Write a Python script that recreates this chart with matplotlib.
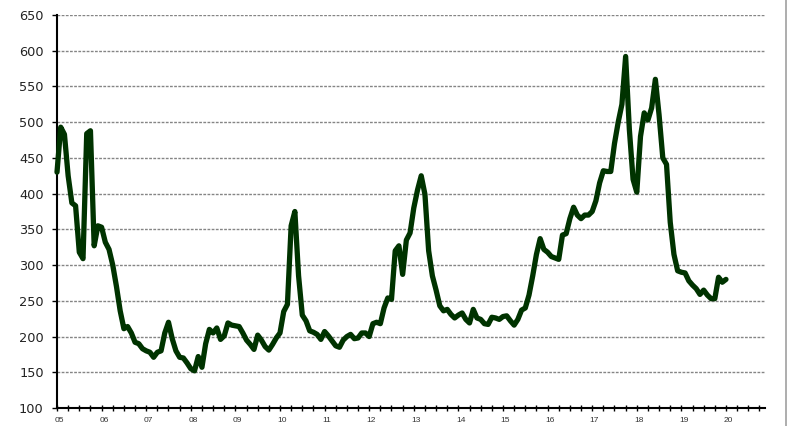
import matplotlib
matplotlib.use("Agg")
import matplotlib.pyplot as plt
from matplotlib.lines import Line2D
import matplotlib.transforms as mtransforms
import numpy as np

# Monthly values, Jan 2005 .. Jan 2020
values = [
    430, 493, 483, 425, 387, 383, 318, 309, 484, 488, 327, 355,   # 2005
    353, 332, 322, 300, 270, 236, 211, 214, 205, 192, 190, 183,   # 2006
    180, 178, 171, 178, 180, 205, 220, 197, 180, 171, 170, 163,   # 2007
    155, 152, 172, 157, 190, 210, 205, 212, 196, 201, 219, 216,   # 2008
    215, 214, 205, 195, 189, 182, 202, 195, 186, 181, 189, 198,   # 2009
    205, 235, 245, 355, 375, 285, 230, 222, 208, 206, 203, 196,   # 2010
    207, 201, 194, 187, 185, 195, 200, 203, 197, 198, 205, 205,   # 2011
    200, 218, 220, 218, 240, 254, 252, 320, 327, 287, 335, 345,   # 2012
    380, 405, 425, 399, 320, 285, 265, 243, 236, 238, 231, 226,   # 2013
    230, 233, 224, 219, 238, 226, 224, 218, 217, 227, 226, 224,   # 2014
    228, 229, 222, 216, 224, 237, 240, 258, 285, 315, 337, 322,   # 2015
    318, 312, 310, 308, 342, 344, 365, 381, 370, 365, 370, 370,   # 2016
    375, 390, 415, 432, 431, 431, 470, 500, 525, 592, 490, 420,   # 2017
    402, 480, 513, 503, 520, 560, 510, 450, 441, 360, 315, 292,   # 2018
    290, 289, 278, 272, 267, 259, 265, 258, 253, 253, 283, 276,   # 2019
    280,                                                          # 2020
]
year_labels = ["05", "06", "07", "08", "09", "10", "11", "12",
               "13", "14", "15", "16", "17", "18", "19", "20"]
y_ticks = [100, 150, 200, 250, 300, 350, 400, 450, 500, 550, 600, 650]

W, H = 787, 426
fig = plt.figure(figsize=(W / 100, H / 100), dpi=100)
fig.patch.set_facecolor("white")
ax = fig.add_axes([57 / W, (H - 408) / H, (765 - 57) / W, (408 - 15) / H])

months = np.arange(len(values))
ax.plot(months, values, color="#003300", lw=3.8, solid_joinstyle="round",
        solid_capstyle="round", zorder=3, clip_on=False)

ax.set_xlim(0, 190.5)
ax.set_ylim(100, 650)

# grid
for v in y_ticks[1:]:
    ax.axhline(v, color="#858585", lw=1.0, ls=(0, (2.0, 1.0)), zorder=1)

ax.set_yticks(y_ticks)
ax.set_yticklabels([str(t) for t in y_ticks], fontsize=9.3, color="#222222",
                   family="DejaVu Sans")
ax.tick_params(axis="y", direction="out", length=3.5, width=1, pad=6,
               color="#000000")

ax.set_xticks(np.arange(0, 190, 3))
ax.set_xticklabels([])
ax.tick_params(axis="x", direction="inout", length=5, width=1.0, color="#000000")

offset = mtransforms.ScaledTranslation(0, -9 / 100, fig.dpi_scale_trans)
for i, lab in enumerate(year_labels):
    ax.text(i * 12 + 0.6, 100, lab, transform=ax.transData + offset,
            fontsize=6, color="#333333", ha="center", va="top",
            family="Liberation Sans")

for s in ["top", "right"]:
    ax.spines[s].set_visible(False)
ax.spines["left"].set_linewidth(1.5)
ax.spines["bottom"].set_linewidth(1.5)
ax.spines["left"].set_color("black")
ax.spines["bottom"].set_color("black")

fig.add_artist(Line2D([785.5 / W, 785.5 / W], [0, 1], color="#a0a0a0", lw=1.2,
                      transform=fig.transFigure))

fig.savefig("out.png", dpi=100, facecolor="white")
